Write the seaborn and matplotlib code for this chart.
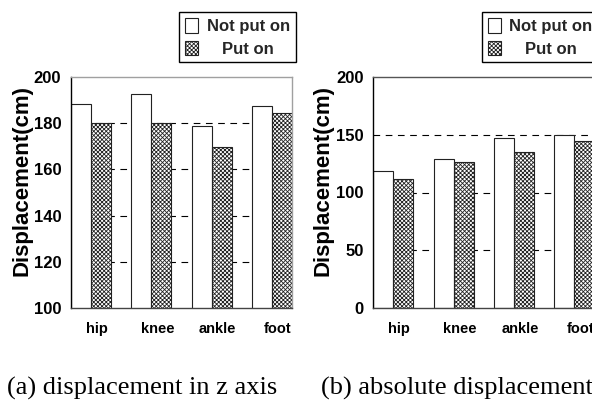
import numpy as np
import pandas as pd
import matplotlib
matplotlib.use("Agg")
import matplotlib.pyplot as plt
import matplotlib.patches as mpatches
import seaborn as sns

# ---- data ----
categories = ["hip", "knee", "ankle", "foot"]
series_names = ["Not put on", "Put on"]
z_not_put_on = [188.5, 192.7, 178.7, 187.6]
z_put_on = [180.0, 180.0, 169.8, 184.5]
abs_not_put_on = [118.6, 128.9, 147.6, 150.2]
abs_put_on = [111.4, 126.0, 134.7, 145.0]
z_ticks = [100, 120, 140, 160, 180, 200]
abs_ticks = [0, 50, 100, 150, 200]
ylabel_text = "Displacement(cm)"
caption_a = "(a) displacement in z axis"
caption_b = "(b) absolute displacement"

sns.set_theme(style="white")
plt.rcParams["font.family"] = ["Liberation Sans", "DejaVu Sans"]
plt.rcParams["hatch.linewidth"] = 0.6
plt.rcParams["hatch.color"] = "black"

HATCH = "xxxxxxxx"

W, H = 592, 408
fig = plt.figure(figsize=(W / 100, H / 100), dpi=100)
fig.patch.set_facecolor("white")


def make_df(a, b):
    return pd.DataFrame({
        "cat": categories * 2,
        "val": list(a) + list(b),
        "series": [series_names[0]] * 4 + [series_names[1]] * 4,
    })


def panel(ax, a, b, ticks, top_color, right_color, label_x):
    df = make_df(a, b)
    sns.barplot(data=df, x="cat", y="val", hue="series", order=categories,
                hue_order=series_names, palette=["white", "white"],
                width=2 / 3, saturation=1, legend=False, ax=ax,
                edgecolor="#222222", linewidth=0.8, errorbar=None)
    for p in ax.containers[1]:
        p.set_hatch(HATCH)
        p.set_edgecolor("#222222")
    ax.set_xlim(-1 / 3, len(categories) - 1 + 1 / 3)
    ax.set_ylim(ticks[0], ticks[-1])
    ax.set_yticks(ticks)
    ax.set_yticklabels([str(t) for t in ticks], fontsize=12, fontweight="bold")
    ax.set_xticks(np.arange(len(categories)) + 0.1)
    ax.set_xticklabels(categories, fontsize=10.5, fontweight="bold")
    ax.tick_params(axis="both", length=0, colors="black")
    ax.tick_params(axis="y", pad=7)
    ax.tick_params(axis="x", pad=10)
    ax.set_xlabel("")
    ax.set_ylabel(ylabel_text, fontsize=16, fontweight="bold", color="black")
    ax.yaxis.set_label_coords(label_x, 0.55)
    ax.set_axisbelow(True)
    ax.yaxis.grid(True, color="black", linestyle=(0, (6, 5)), linewidth=0.8)
    ax.xaxis.grid(False)
    gl = ax.yaxis.get_gridlines()
    gl[0].set_visible(False)
    gl[-1].set_visible(False)
    ax.spines["left"].set_color("black")
    ax.spines["left"].set_linewidth(1.0)
    ax.spines["bottom"].set_color("#444444")
    ax.spines["bottom"].set_linewidth(1.0)
    ax.spines["top"].set_color(top_color)
    ax.spines["top"].set_linewidth(1.0)
    ax.spines["right"].set_color(right_color)
    ax.spines["right"].set_linewidth(1.0)
    ax.set_facecolor("white")


ax1 = fig.add_axes([71 / W, 1 - 308 / H, 221 / W, 231 / H])
ax2 = fig.add_axes([373.3 / W, 1 - 308 / H, 221 / W, 231 / H])
panel(ax1, z_not_put_on, z_put_on, z_ticks, "#a0a0a0", "#a0a0a0", -0.172)
panel(ax2, abs_not_put_on, abs_put_on, abs_ticks, "#555555", "#555555", -0.182)

legends = []
for x0 in (179.3 / W, 481.7 / W):
    handles = [
        mpatches.Patch(facecolor="white", edgecolor="#222222", linewidth=0.8),
        mpatches.Patch(facecolor="white", edgecolor="#222222", linewidth=0.8, hatch=HATCH),
    ]
    leg = fig.legend(handles, series_names, loc="upper left",
                     bbox_to_anchor=(x0, 1 - 12.3 / H), bbox_transform=fig.transFigure,
                     borderaxespad=0, fancybox=False, framealpha=1, frameon=True,
                     prop={"weight": "bold", "size": 12}, handlelength=0.8,
                     handleheight=0.95, handletextpad=0.5, labelspacing=0.4,
                     borderpad=0.35)
    leg.get_frame().set_edgecolor("black")
    leg.get_frame().set_linewidth(1.0)
    legends.append(leg)

# captions
fig.text(7 / W, 1 - 395 / H, caption_a, family=["Liberation Serif", "DejaVu Serif"],
         fontsize=19, ha="left", va="baseline", color="black")
fig.text(321 / W, 1 - 395 / H, caption_b, family=["Liberation Serif", "DejaVu Serif"],
         fontsize=19, ha="left", va="baseline", color="black")

# center the shorter legend label
fig.canvas.draw()
r = fig.canvas.get_renderer()
for leg in legends:
    texts = leg.get_texts()
    widths = [t.get_window_extent(r).width for t in texts]
    wmax = max(widths)
    for t, w in zip(texts, widths):
        t.set_x((wmax - w) / 2)

fig.savefig("out.png", dpi=100, facecolor="white")
